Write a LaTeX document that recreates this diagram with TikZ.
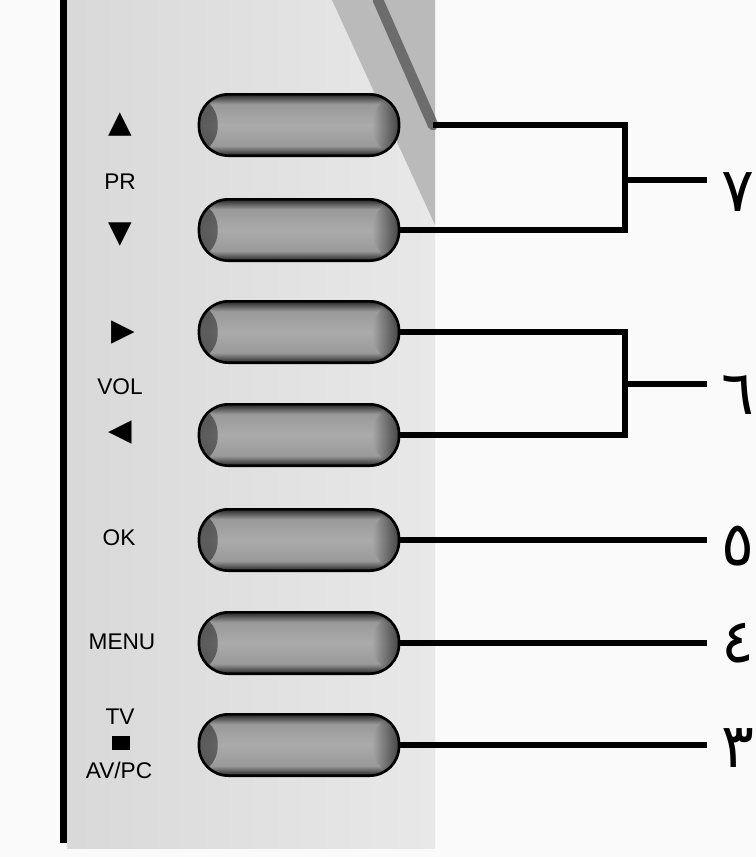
\documentclass[tikz,border=0pt]{standalone}
\usepackage{fontspec}
\setmainfont{Liberation Sans}
\newfontfamily\arabicfont[Script=Arabic]{DejaVu Sans}
\newfontfamily\symfont{DejaVu Sans}
\TeXXeTstate=1
\usetikzlibrary{positioning}
\pgfdeclareverticalshading{btnshade}{100bp}{color(0bp)=(black!85); color(25bp)=(black!85);
  color(33bp)=(black!40); color(50bp)=(black!33); color(67bp)=(black!40);
  color(75bp)=(black!85); color(100bp)=(black!85)}
\tikzset{
  btn/.style={rectangle, rounded corners=22pt, minimum width=150pt, minimum height=46pt,
    draw=black, line width=2pt, shading=btnshade,
    path picture={
      \shade[left color=black!85, right color=black!35, opacity=.6]
        (path picture bounding box.north west) rectangle ([xshift=14pt]path picture bounding box.south west);
      \shade[left color=black!35, right color=black!90, opacity=.7]
        ([xshift=-20pt]path picture bounding box.north east) rectangle (path picture bounding box.south east);}},
  keytxt/.style={font=\fontsize{17}{19}\selectfont, inner sep=0pt},
  keysym/.style={font=\symfont\fontsize{23}{25}\selectfont, inner sep=0pt},
  conn/.style={line width=4.5pt},
  numlbl/.style={font=\arabicfont\fontsize{46}{50}\selectfont, anchor=east, inner sep=0pt}
}
\begin{document}
\begin{tikzpicture}[x=0.75pt,y=-0.75pt]
  \useasboundingbox (0,0) rectangle (756,857);
  \fill[black!2] (0,0) rectangle (756,857);
  % panel of the set
  \shade[left color=black!15, right color=black!9] (67,0) rectangle (435,848);
  \fill[black!27] (332,0) -- (435,0) -- (435,225) -- cycle;
  \fill (60,0) rectangle (67,843);
  % buttons
  \foreach \n/\y in {1/125,2/230,3/332,4/435,5/540,6/643,7/745}
    \node[btn] (b\n) at (299,\y) {};
  \coordinate (tip) at (433,125);
  \draw[line width=8pt, black!70, opacity=.7, line cap=round] (378,0) -- (tip);
  % key captions
  \node[keysym] (prup) at (120,125) {▲};
  \node[keytxt] (pr) at (120,182) {PR};
  \node[keysym] (prdn) at (120,235) {▼};
  \node[keysym] (volup) at (123,333) {▶};
  \node[keytxt] (vol) at (120,387) {VOL};
  \node[keysym] (voldn) at (120,433) {◀};
  \node[keytxt] (ok) at (119,538) {OK};
  \node[keytxt] (menu) at (122,642) {MENU};
  \node[keytxt] (tv) at (120,717) {TV};
  \node[fill, minimum width=13pt, minimum height=10pt, inner sep=0pt] (sq) at (121,743) {};
  \node[keytxt] (avpc) at (119,770) {AV/PC};
  % numbers
  \node[numlbl] (l7) at (755,192) {\beginR ٧\endR};
  \node[numlbl] (l6) at (755,395) {\beginR ٦\endR};
  \node[numlbl] (l5) at (755,546) {\beginR ٥\endR};
  \node[numlbl] (l4) at (755,643) {\beginR ٤\endR};
  \node[numlbl] (l3) at (755,748) {\beginR ٣\endR};
  % connectors
  \coordinate (j1) at (625,180);
  \coordinate (j2) at (625,384);
  \coordinate (e7) at (707,180);
  \coordinate (e6) at (707,384);
  \draw[conn] (tip) -| (j1) |- (b2.east);
  \draw[conn] (b3.east) -| (j2) |- (b4.east);
  \draw[conn] (j1) -- (e7);
  \draw[conn] (j2) -- (e6);
  \draw[conn] (b5.east) -- (b5.east -| e7) coordinate (e5);
  \draw[conn] (b6.east) -- (b6.east -| e7) coordinate (e4);
  \draw[conn] (b7.east) -- (b7.east -| e7) coordinate (e3);
\end{tikzpicture}
\end{document}
